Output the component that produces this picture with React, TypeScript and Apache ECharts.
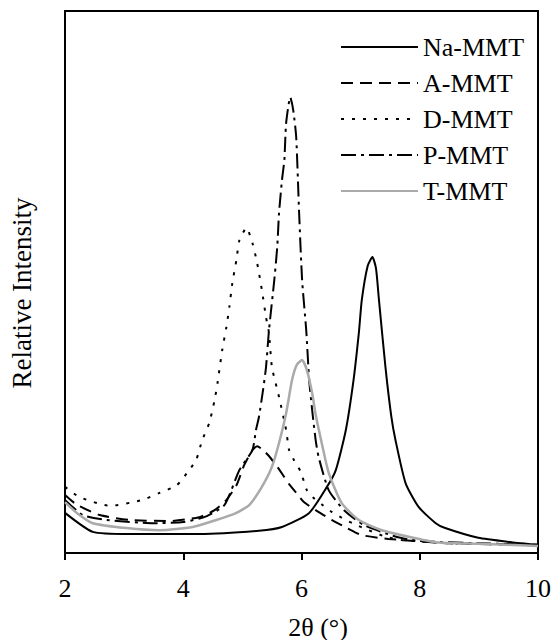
import React, { useEffect, useRef } from "react";
import * as echarts from "echarts";

const seriesNames = ["Na-MMT", "A-MMT", "D-MMT", "P-MMT", "T-MMT"];
const xTicks = [2, 4, 6, 8, 10];

const naX = [2.0, 2.47, 3.09, 4.27, 5.28, 5.67, 6.13, 6.43, 6.58, 6.75, 6.88, 6.97, 7.02, 7.12, 7.2, 7.26, 7.31, 7.42, 7.52, 7.59, 7.76, 7.98, 8.27, 8.43, 8.99, 9.55, 10.0];
const naY = [7.4, 3.9, 3.5, 3.5, 4.1, 4.8, 7.4, 12.2, 15.3, 22.7, 31.9, 40.6, 46.7, 53.0, 54.6, 52.5, 46.7, 34.3, 25.1, 20.8, 12.9, 8.5, 5.5, 4.6, 2.8, 2.0, 1.5];

const aX = [2.0, 2.2, 2.59, 3.09, 3.77, 4.27, 4.53, 4.73, 4.9, 5.03, 5.17, 5.25, 5.35, 5.45, 5.59, 5.71, 5.79, 5.91, 6.04, 6.24, 6.51, 6.77, 7.02, 7.47, 8.48, 10.0];
const aY = [10.7, 8.9, 7.0, 6.1, 5.9, 6.6, 7.9, 9.8, 12.5, 16.2, 19.0, 19.7, 19.0, 17.9, 15.9, 14.0, 12.7, 11.1, 9.4, 7.9, 6.1, 4.6, 3.3, 2.6, 1.8, 1.5];

const dX = [2.0, 2.25, 2.76, 3.31, 3.6, 3.89, 4.1, 4.22, 4.32, 4.44, 4.53, 4.58, 4.66, 4.73, 4.78, 4.83, 4.9, 4.95, 5.07, 5.17, 5.25, 5.33, 5.4, 5.45, 5.5, 5.62, 5.74, 5.79, 5.87, 5.99, 6.09, 6.21, 6.35, 6.51, 6.68, 6.92, 7.14, 7.42, 7.69, 8.48, 10.0];
const dY = [12.2, 10.3, 8.7, 9.8, 11.1, 12.5, 15.3, 17.2, 20.8, 24.0, 28.2, 31.4, 37.5, 41.7, 45.4, 49.8, 54.1, 57.7, 60.0, 57.2, 53.5, 48.5, 43.5, 40.6, 34.3, 28.8, 22.7, 19.0, 17.2, 14.9, 11.6, 10.1, 8.9, 7.6, 6.5, 5.2, 4.2, 3.0, 2.4, 1.8, 1.5];

const pX = [2.0, 2.3, 2.7, 3.5, 4.0, 4.4, 4.7, 4.95, 5.17, 5.23, 5.28, 5.35, 5.4, 5.45, 5.54, 5.59, 5.62, 5.67, 5.71, 5.74, 5.81, 5.86, 5.91, 5.96, 6.01, 6.08, 6.13, 6.18, 6.24, 6.29, 6.46, 6.72, 7.05, 7.6, 8.0, 9.0, 10.0];
const pY = [9.8, 7.0, 6.1, 5.5, 5.7, 6.8, 8.9, 15.3, 19.0, 22.7, 25.1, 30.1, 34.3, 41.1, 50.4, 56.5, 62.7, 68.8, 72.5, 79.3, 84.1, 81.7, 76.8, 62.7, 50.4, 41.1, 31.9, 26.4, 20.8, 17.7, 11.6, 7.9, 5.2, 3.0, 2.2, 1.8, 1.5];

const tX = [2.0, 2.2, 2.47, 3.04, 3.6, 4.16, 4.56, 4.9, 5.12, 5.33, 5.5, 5.62, 5.74, 5.84, 5.92, 6.01, 6.09, 6.18, 6.24, 6.35, 6.46, 6.68, 6.97, 7.36, 7.81, 8.27, 8.99, 10.0];
const tY = [9.4, 7.4, 5.5, 4.6, 4.2, 4.8, 6.1, 7.4, 8.9, 12.2, 15.9, 20.3, 25.8, 31.9, 34.7, 35.6, 33.8, 29.5, 25.5, 19.9, 14.8, 9.2, 6.1, 4.2, 3.0, 2.0, 1.7, 1.3];

const zip = (xs: number[], ys: number[]) => xs.map((x, i) => [x, ys[i]]);

const FONT = "'Liberation Serif', 'Times New Roman', serif";

export default function App() {
  const ref = useRef<HTMLDivElement>(null);
  useEffect(() => {
    if (!ref.current) return;
    const chart = echarts.init(ref.current, null, { renderer: "svg" });
    const mk = (name: string, data: number[][], color: string, width: number, type: any) => ({
      name,
      type: "line",
      data,
      symbol: "none",
      smooth: 0.2,
      lineStyle: { color, width, type },
      itemStyle: { color },
    });
    chart.setOption({
      animation: false,
      backgroundColor: "#fff",
      grid: { left: 65, right: 14, top: 11, bottom: 87, show: true, borderColor: "#000", borderWidth: 2, backgroundColor: "transparent" },
      legend: {
        orient: "vertical",
        left: 340,
        top: 34,
        padding: 0,
        itemWidth: 77,
        itemHeight: 26,
        itemGap: 10,
        data: seriesNames,
        itemStyle: { opacity: 0, borderWidth: 0 },
        textStyle: { fontFamily: FONT, fontSize: 26, color: "#000", lineHeight: 26, padding: [0, 0, 0, 0] },
      },
      xAxis: {
        type: "value",
        min: 2,
        max: 10,
        interval: 2,
        axisLine: { show: true, lineStyle: { color: "#000", width: 2 } },
        axisTick: { show: true, length: 7, lineStyle: { color: "#000", width: 2 } },
        axisLabel: {
          margin: 22,
          fontFamily: FONT,
          fontSize: 26,
          color: "#000",
          formatter: (v: number) => (xTicks.includes(v) ? String(v) : ""),
        },
        splitLine: { show: false },
      },
      yAxis: {
        type: "value",
        min: 0,
        max: 100,
        axisLine: { show: true, lineStyle: { color: "#000", width: 2 } },
        axisTick: { show: false },
        axisLabel: { show: false },
        splitLine: { show: false },
      },
      graphic: [
        {
          type: "text",
          x: 318,
          y: 627,
          style: { text: "2θ (°)", font: `26px ${FONT}`, fill: "#000", align: "center", verticalAlign: "middle" },
        },
        {
          type: "text",
          x: 22,
          y: 293,
          rotation: Math.PI / 2,
          style: { text: "Relative Intensity", font: `27px ${FONT}`, fill: "#000", align: "center", verticalAlign: "middle" },
        },
      ],
      series: [
        mk(seriesNames[0], zip(naX, naY), "#000", 2, "solid"),
        mk(seriesNames[1], zip(aX, aY), "#000", 2, [12, 7]),
        mk(seriesNames[2], zip(dX, dY), "#000", 2, [3, 8]),
        mk(seriesNames[3], zip(pX, pY), "#000", 2, [15, 5, 3, 5]),
        mk(seriesNames[4], zip(tX, tY), "#aaaaaa", 2.5, "solid"),
      ],
    });
    return () => chart.dispose();
  }, []);
  return <div ref={ref} style={{ position: "absolute", left: 0, top: 0, width: 554, height: 640 }} />;
}
